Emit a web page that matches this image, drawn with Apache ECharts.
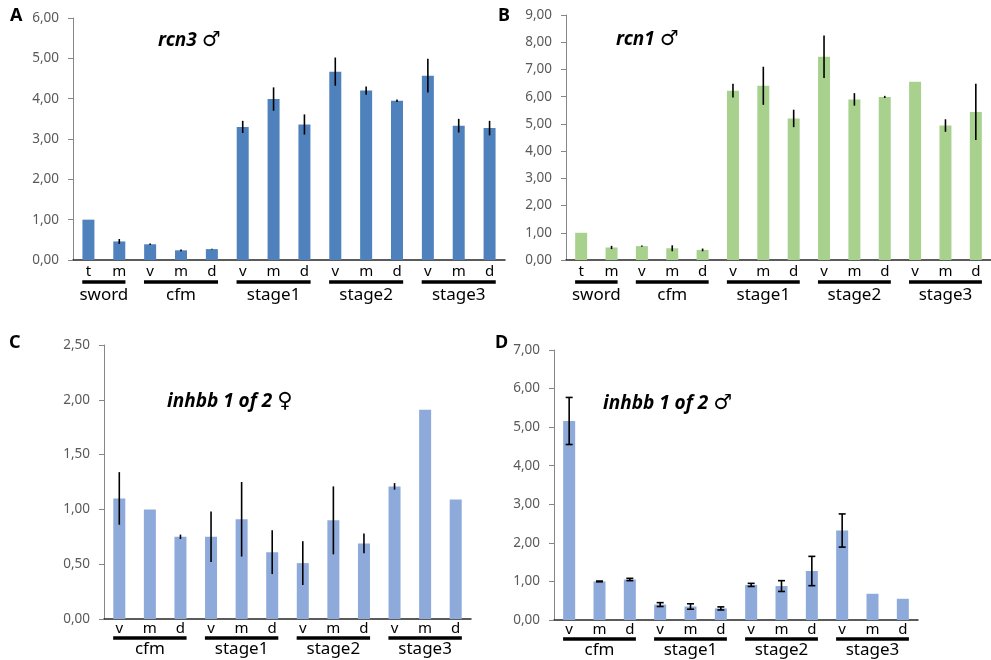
<!DOCTYPE html>
<html>
<head>
<meta charset="utf-8">
<script src="https://cdn.jsdelivr.net/npm/echarts@6/dist/echarts.min.js"></script>
<style>
  html, body { margin: 0; padding: 0; background: #fff; overflow: hidden; }
  #main { width: 991px; height: 660px; }
</style>
</head>
<body>
<div id="main"></div>
<script>
// group names and the sub-labels under each bar
var groupsAB = ['sword', 'cfm', 'stage1', 'stage2', 'stage3'];
var subsAB = [['t', 'm'], ['v', 'm', 'd'], ['v', 'm', 'd'], ['v', 'm', 'd'], ['v', 'm', 'd']];
var groupsCD = ['cfm', 'stage1', 'stage2', 'stage3'];
var subsCD = [['v', 'm', 'd'], ['v', 'm', 'd'], ['v', 'm', 'd'], ['v', 'm', 'd']];

// A: rcn3 male
var valuesA = [1.00, 0.46, 0.39, 0.24, 0.27, 3.30, 3.99, 3.36, 4.67, 4.20, 3.95, 4.57, 3.33, 3.27];
var errA = [0, 0.06, 0.02, 0.02, 0.01, 0.15, 0.29, 0.25, 0.35, 0.10, 0.03, 0.42, 0.17, 0.18];
// B: rcn1 male
var valuesB = [1.00, 0.46, 0.51, 0.43, 0.37, 6.22, 6.40, 5.20, 7.47, 5.90, 5.99, 6.55, 4.94, 5.44];
var errB = [0, 0.06, 0.02, 0.11, 0.05, 0.25, 0.70, 0.32, 0.78, 0.23, 0.04, 0, 0.23, 1.03];
// C: inhbb 1 of 2 female
var valuesC = [1.10, 1.00, 0.75, 0.75, 0.91, 0.61, 0.51, 0.90, 0.69, 1.21, 1.91, 1.09];
var errC = [0.24, 0, 0.02, 0.23, 0.34, 0.20, 0.20, 0.31, 0.09, 0.03, 0, 0];
// D: inhbb 1 of 2 male
var valuesD = [5.16, 1.00, 1.05, 0.40, 0.35, 0.30, 0.91, 0.88, 1.27, 2.32, 0.68, 0.55];
var errD = [0.61, 0.01, 0.03, 0.05, 0.07, 0.04, 0.04, 0.14, 0.38, 0.43, 0, 0];

var yTicks = [
    { max: 6, interval: 1 },
    { max: 9, interval: 1 },
    { max: 2.5, interval: 0.5 },
    { max: 7, interval: 1 }
];

function categories(groups, subs) {
    var out = [];
    groups.forEach(function(g, i) {
        subs[i].forEach(function(s) { out.push(g + '|' + s); });
    });
    return out;
}

function groupRanges(subs) {
    var out = [], k = 0;
    subs.forEach(function(s) {
        out.push([k, k + s.length - 1]);
        k += s.length;
    });
    return out;
}

function errData(values, errs) {
    var out = [];
    values.forEach(function(v, i) {
        if (errs[i]) out.push([i, v - errs[i], v + errs[i]]);
    });
    return out;
}

function errorItem(capW) {
    return function(params, api) {
        var x = api.value(0);
        var lo = api.coord([x, api.value(1)]);
        var hi = api.coord([x, api.value(2)]);
        var st = { stroke: '#000', lineWidth: 1.6 };
        var ch = [{ type: 'line', shape: { x1: lo[0], y1: lo[1], x2: hi[0], y2: hi[1] }, style: st }];
        if (capW) {
            ch.push({ type: 'line', shape: { x1: lo[0] - capW / 2, y1: lo[1], x2: lo[0] + capW / 2, y2: lo[1] }, style: st });
            ch.push({ type: 'line', shape: { x1: hi[0] - capW / 2, y1: hi[1], x2: hi[0] + capW / 2, y2: hi[1] }, style: st });
        }
        return { type: 'group', children: ch };
    };
}

function groupItem(names, lineDy, textDy) {
    return function(params, api) {
        var a = api.coord([api.value(0), 0]);
        var b = api.coord([api.value(1), 0]);
        var bw = api.size([1, 0])[0];
        var x1 = a[0] - 0.2 * bw, x2 = b[0] + 0.2 * bw;
        return {
            type: 'group',
            children: [{
                type: 'line',
                shape: { x1: x1, y1: a[1] + lineDy, x2: x2, y2: a[1] + lineDy },
                style: { stroke: '#000', lineWidth: 3.5 }
            }, {
                type: 'text',
                x: (x1 + x2) / 2,
                y: a[1] + textDy,
                style: {
                    text: names[params.dataIndex],
                    fill: '#000',
                    fontSize: 17,
                    fontFamily: 'Noto Sans',
                    align: 'center',
                    verticalAlign: 'middle'
                }
            }]
        };
    };
}

var panels = [
    { grid: { left: 73, top: 18, width: 432, height: 242 }, groups: groupsAB, subs: subsAB, values: valuesA, errs: errA, color: '#4f81bd', cap: 0, lineDy: 22, textDy: 35, margin: 4 },
    { grid: { left: 566, top: 15, width: 432, height: 245 }, groups: groupsAB, subs: subsAB, values: valuesB, errs: errB, color: '#a9d18e', cap: 0, lineDy: 22, textDy: 35, margin: 4 },
    { grid: { left: 104, top: 345, width: 367, height: 274 }, groups: groupsCD, subs: subsCD, values: valuesC, errs: errC, color: '#8eaadb', cap: 0, lineDy: 19, textDy: 30, margin: 2 },
    { grid: { left: 554, top: 350, width: 364, height: 270 }, groups: groupsCD, subs: subsCD, values: valuesD, errs: errD, color: '#8eaadb', cap: 7, lineDy: 19, textDy: 30, margin: 2 }
];

var grids = [], xAxes = [], yAxes = [], series = [];
panels.forEach(function(p, i) {
    grids.push(p.grid);
    xAxes.push({
        type: 'category',
        gridIndex: i,
        data: categories(p.groups, p.subs),
        axisLine: { lineStyle: { color: '#262626', width: 1.5 } },
        axisTick: { show: false },
        axisLabel: {
            interval: 0,
            margin: p.margin,
            color: '#000',
            fontSize: 15,
            fontFamily: 'Noto Sans',
            formatter: function(v) { return v.split('|')[1]; }
        }
    });
    yAxes.push({
        type: 'value',
        gridIndex: i,
        min: 0,
        max: yTicks[i].max,
        interval: yTicks[i].interval,
        splitLine: { show: false },
        axisLine: { show: true, lineStyle: { color: '#868686' } },
        axisTick: { show: true, length: 5, lineStyle: { color: '#868686' } },
        axisLabel: {
            margin: 14,
            color: '#595959',
            fontSize: 13.5,
            fontFamily: 'Noto Sans',
            formatter: function(v) { return v.toFixed(2).replace('.', ','); }
        }
    });
    series.push({
        type: 'bar',
        xAxisIndex: i,
        yAxisIndex: i,
        barWidth: 12,
        itemStyle: { color: p.color },
        data: p.values
    });
    series.push({
        type: 'custom',
        xAxisIndex: i,
        yAxisIndex: i,
        silent: true,
        z: 5,
        renderItem: errorItem(p.cap),
        encode: { x: 0, y: [1, 2] },
        data: errData(p.values, p.errs)
    });
    series.push({
        type: 'custom',
        xAxisIndex: i,
        yAxisIndex: i,
        silent: true,
        clip: false,
        renderItem: groupItem(p.groups, p.lineDy, p.textDy),
        data: groupRanges(p.subs)
    });
});

function geneTitle(name, sym, left, top) {
    return {
        text: '{g|' + name + '} {s|' + sym + '}',
        left: left,
        top: top,
        padding: 0,
        textStyle: {
            rich: {
                g: { fontStyle: 'italic', fontWeight: 'bold', fontSize: 19, fontFamily: 'Noto Sans', color: '#000' },
                s: { fontWeight: 'bold', fontSize: 21, fontFamily: 'DejaVu Sans', color: '#000' }
            }
        }
    };
}

function letter(t, left, top) {
    return {
        text: t,
        left: left,
        top: top,
        padding: 0,
        textStyle: { fontSize: 18, fontWeight: 'bold', fontFamily: 'Noto Sans', color: '#000' }
    };
}

var myChart = echarts.init(document.getElementById('main'));
var option = {
    animation: false,
    title: [
        letter('A', 10, 7),
        letter('B', 498, 7),
        letter('C', 9, 334),
        letter('D', 495, 334),
        geneTitle('rcn3', '♂', 158, 30),
        geneTitle('rcn1', '♂', 616, 29),
        geneTitle('inhbb 1 of 2', '♀', 167, 391),
        geneTitle('inhbb 1 of 2', '♂', 603, 393)
    ],
    grid: grids,
    xAxis: xAxes,
    yAxis: yAxes,
    series: series
};
myChart.setOption(option);
</script>
</body>
</html>
